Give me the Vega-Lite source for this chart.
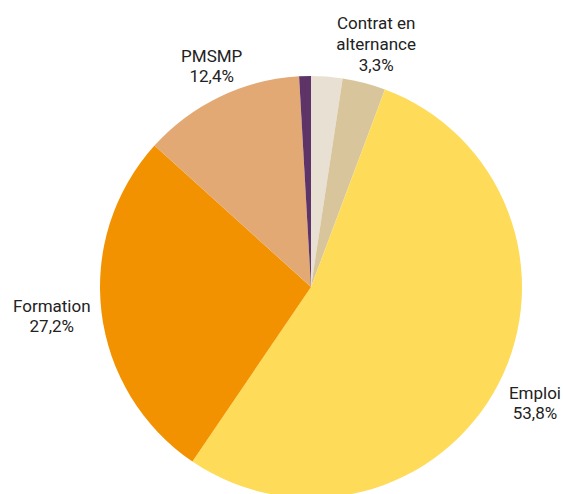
{
  "$schema": "https://vega.github.io/schema/vega-lite/v6.json",
  "width": 504,
  "height": 414,
  "padding": {"left": 59, "top": 80, "right": 0, "bottom": 0},
  "autosize": "none",
  "background": "white",
  "view": {"stroke": null},
  "data": {
    "values": [
      {"cat": "Autre", "value": 2.4, "rank": 1, "label": ""},
      {"cat": "Contrat en alternance", "value": 3.3, "rank": 2, "label": "Contrat en\nalternance\n3,3%"},
      {"cat": "Emploi", "value": 53.8, "rank": 3, "label": "Emploi\n53,8%"},
      {"cat": "Formation", "value": 27.2, "rank": 4, "label": "Formation\n27,2%"},
      {"cat": "PMSMP", "value": 12.4, "rank": 5, "label": "PMSMP\n12,4%"},
      {"cat": "Autre2", "value": 0.9, "rank": 6, "label": ""}
    ]
  },
  "encoding": {
    "theta": {"field": "value", "type": "quantitative", "stack": true},
    "order": {"field": "rank", "type": "quantitative"}
  },
  "layer": [
    {
      "mark": {"type": "arc", "outerRadius": 211},
      "encoding": {
        "color": {
          "field": "cat",
          "type": "nominal",
          "legend": null,
          "scale": {
            "domain": ["Autre", "Contrat en alternance", "Emploi", "Formation", "PMSMP", "Autre2"],
            "range": ["#E8E0D2", "#D9C59C", "#FEDC5A", "#F29200", "#E2A974", "#5E3468"]
          }
        }
      }
    },
    {
      "mark": {"type": "text", "radius": 251, "dx": 2, "dy": -20, "font": "Roboto", "fontSize": 17, "lineBreak": "\n", "lineHeight": 21, "color": "#222222", "align": "center", "baseline": "middle"},
      "encoding": {
        "text": {"condition": {"test": "datum.cat === 'Contrat en alternance'", "field": "label"}, "value": ""}
      }
    },
    {
      "mark": {"type": "text", "radius": 251, "dx": 1, "dy": -8, "font": "Roboto", "fontSize": 17, "lineBreak": "\n", "lineHeight": 20, "color": "#222222", "align": "center", "baseline": "middle"},
      "encoding": {
        "text": {"condition": {"test": "datum.cat === 'Emploi'", "field": "label"}, "value": ""}
      }
    },
    {
      "mark": {"type": "text", "radius": 251, "dx": -10, "dy": -10, "font": "Roboto", "fontSize": 17, "lineBreak": "\n", "lineHeight": 20, "color": "#222222", "align": "center", "baseline": "middle"},
      "encoding": {
        "text": {"condition": {"test": "datum.cat === 'Formation'", "field": "label"}, "value": ""}
      }
    },
    {
      "mark": {"type": "text", "radius": 251, "dx": 9, "dy": -4, "font": "Roboto", "fontSize": 17, "lineBreak": "\n", "lineHeight": 20, "color": "#222222", "align": "center", "baseline": "middle"},
      "encoding": {
        "text": {"condition": {"test": "datum.cat === 'PMSMP'", "field": "label"}, "value": ""}
      }
    }
  ]
}
